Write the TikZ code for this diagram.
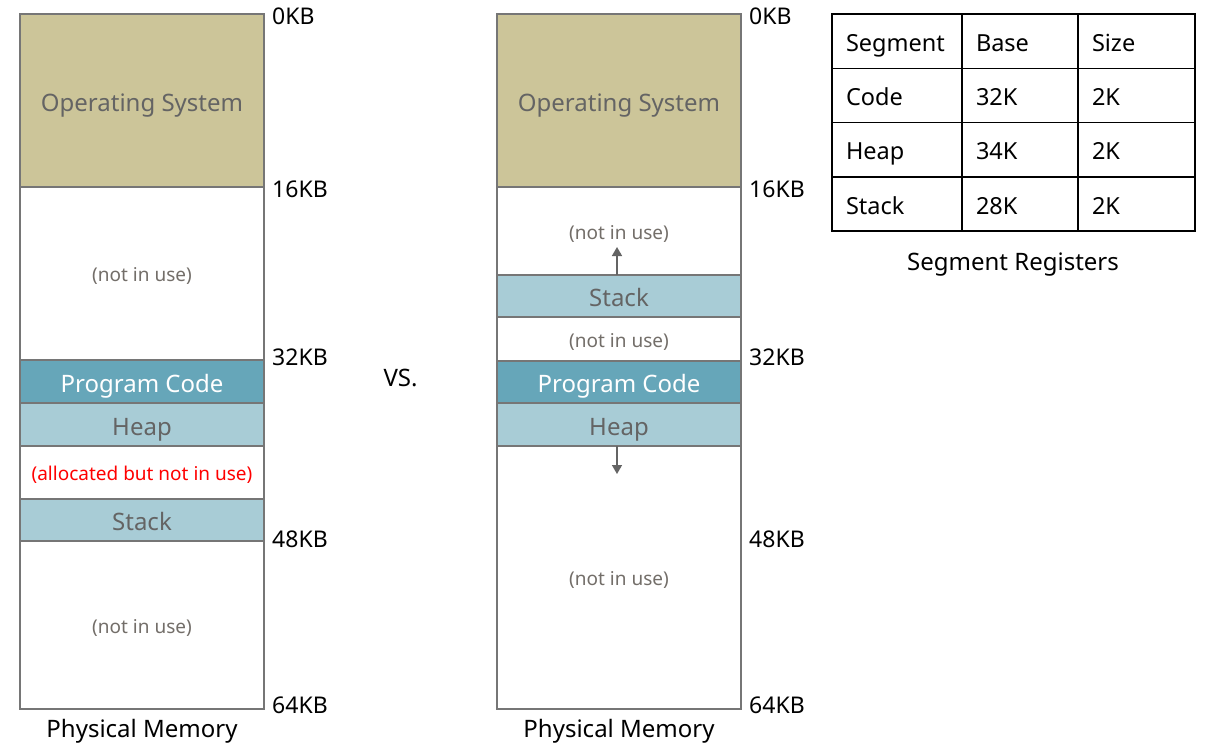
\documentclass[tikz,border=0pt]{standalone}
\usepackage{fontspec}
\setmainfont{Noto Sans}
\usetikzlibrary{arrows.meta,matrix}
\definecolor{osfill}{RGB}{204,197,153}
\definecolor{codefill}{RGB}{102,166,185}
\definecolor{lightfill}{RGB}{168,204,214}
\definecolor{edgegray}{RGB}{118,118,118}
\definecolor{txtgray}{RGB}{100,100,100}
\definecolor{nouse}{RGB}{115,110,105}
\definecolor{redtxt}{RGB}{255,0,0}
\tikzset{
  seg/.style={draw=edgegray, line width=1.6pt, minimum width=244pt, inner sep=0pt, outer sep=0pt, anchor=north west, font=\fontsize{24}{27}\selectfont, text=txtgray, text height=21pt, text depth=0pt},
  free/.style={seg, fill=white, font=\fontsize{19}{22}\selectfont, text=nouse, text height=16.5pt},
  oslab/.style={seg, fill=osfill},
  codelab/.style={seg, fill=codefill, text=white},
  lightlab/.style={seg, fill=lightfill},
  kb/.style={anchor=west, font=\fontsize{23}{26}\selectfont, inner sep=0pt},
  captext/.style={font=\fontsize{24}{27}\selectfont, inner sep=0pt, text height=20pt, text depth=0pt},
  growarrow/.style={draw=txtgray, line width=1.5pt, -{Triangle[width=10pt,length=9pt]}}
}
\begin{document}
\begin{tikzpicture}[x=1pt,y=-1pt]
\useasboundingbox (0,0) rectangle (1206,747);
% left column
\node[oslab, minimum height=173pt] (los) at (20,14) {Operating System};
\node[free, minimum height=173pt] (lfree1) at (20,187) {(not in use)};
\node[codelab, minimum height=43pt] (lcode) at (20,360) {Program Code};
\node[lightlab, minimum height=43pt] (lheap) at (20,403) {Heap};
\node[free, minimum height=53pt, text=redtxt] (lalloc) at (20,446) {(allocated but not in use)};
\node[lightlab, minimum height=42pt] (lstack) at (20,499) {Stack};
\node[free, minimum height=168pt] (lfree2) at (20,541) {(not in use)};
\node[kb] (l0) at (272,16) {0KB};
\node[kb] (l16) at (272,189) {16KB};
\node[kb] (l32) at (272,357) {32KB};
\node[kb] (l48) at (272,539) {48KB};
\node[kb] (l64) at (272,705) {64KB};
\node[captext] (lcap) at (142,727) {Physical Memory};
\node[captext] (vs) at (400.5,376) {VS.};
% right column
\node[oslab, minimum height=173pt] (ros) at (497,14) {Operating System};
\node[free, minimum height=88pt] (rfree1) at (497,187) {(not in use)};
\node[lightlab, minimum height=42pt] (rstack) at (497,275) {Stack};
\node[free, minimum height=44pt] (rfree2) at (497,317) {(not in use)};
\node[codelab, minimum height=42pt] (rcode) at (497,361) {Program Code};
\node[lightlab, minimum height=43pt] (rheap) at (497,403) {Heap};
\node[free, minimum height=263pt] (rfree3) at (497,446) {(not in use)};
\coordinate (upstart) at ([xshift=-2pt]rstack.north);
\coordinate (upend) at (upstart |- 0,247);
\coordinate (downstart) at ([xshift=-2pt]rheap.south);
\coordinate (downend) at (downstart |- 0,474);
\draw[growarrow] (upstart) -- (upend);
\draw[growarrow] (downstart) -- (downend);
\node[kb] (r0) at (749,16) {0KB};
\node[kb] (r16) at (749,189) {16KB};
\node[kb] (r32) at (749,357) {32KB};
\node[kb] (r48) at (749,539) {48KB};
\node[kb] (r64) at (749,705) {64KB};
\node[captext] (rcap) at (619,727) {Physical Memory};
% table
\matrix (tbl) [matrix of nodes, anchor=north west, inner sep=0pt, outer sep=0pt, column sep=-1.5pt, row sep=-1.5pt,
  nodes={draw=black, line width=1.5pt, minimum height=54.3pt, inner xsep=14pt, inner ysep=0pt, align=left, font=\fontsize{23.5}{26}\selectfont, text height=20pt, text depth=0pt},
  column 1/.style={nodes={text width=102pt}},
  column 2/.style={nodes={text width=88pt}},
  column 3/.style={nodes={text width=89pt}}] at (831.25,13.25) {
  Segment & Base & Size \\
  Code & 32K & 2K \\
  Heap & 34K & 2K \\
  Stack & 28K & 2K \\
};
\node[captext] (tcap) at (1013,260) {Segment Registers};
\end{tikzpicture}
\end{document}
